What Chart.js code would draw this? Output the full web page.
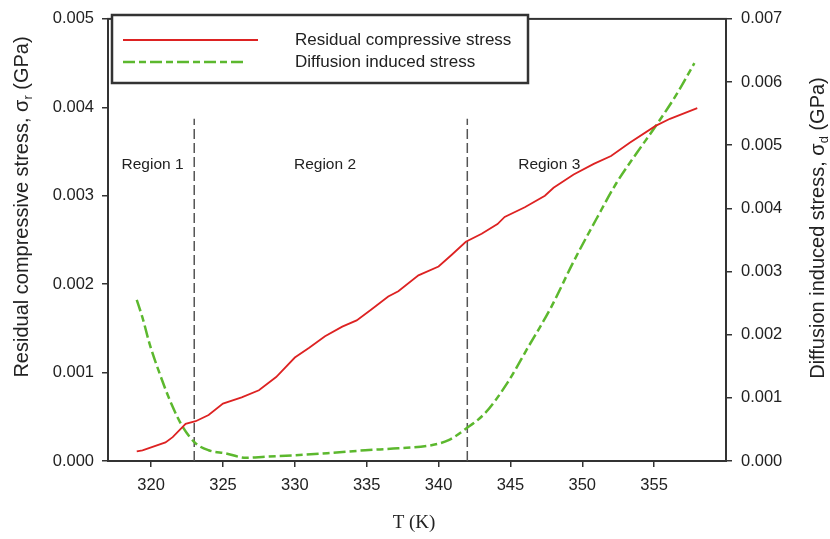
<!DOCTYPE html>
<html>
<head>
<meta charset="utf-8">
<script src="https://cdn.jsdelivr.net/npm/chart.js@4.4.0/dist/chart.umd.min.js"></script>
<style>body{margin:0;background:#fff}</style>
</head>
<body>
<canvas id="stressChart" width="830" height="539"></canvas>
<script>
// tick labels
const xTicks = [320, 325, 330, 335, 340, 345, 350, 355];
const leftTicks = [0, 0.001, 0.002, 0.003, 0.004, 0.005];
const rightTicks = [0, 0.001, 0.002, 0.003, 0.004, 0.005, 0.006, 0.007];

// residual compressive stress (left axis, GPa)
const residualT = [319, 319.4, 321.0, 321.5, 322.4, 323.1, 324, 325, 326.3, 327.5, 328.7, 330, 331, 332.1,
  333.3, 334.3, 335.3, 336.5, 337.2, 338.6, 340, 340.9, 341.9, 343, 344.1, 344.6, 346, 347.4, 348,
  349.4, 350.8, 352, 353.3, 355.1, 356.1, 358];
const residualStress = [0.00011, 0.00012, 0.00021, 0.00027, 0.00042, 0.00045, 0.00052, 0.00065, 0.00072,
  0.0008, 0.00095, 0.00117, 0.00128, 0.00141, 0.00152, 0.00159, 0.00171, 0.00186, 0.00192, 0.0021,
  0.0022, 0.00233, 0.00248, 0.00257, 0.00268, 0.00276, 0.00287, 0.003, 0.00309, 0.00324, 0.00336,
  0.00345, 0.0036, 0.00379, 0.00387, 0.00399];

// diffusion induced stress (right axis, GPa)
const diffusionT = [319, 319.4, 319.9, 320.6, 321.4, 322.2, 323.1, 324, 325.2, 326.6, 328, 330, 332.6,
  334.9, 337.2, 339.5, 340.7, 341.9, 343.2, 344.8, 346.2, 347.8, 349.4, 351, 352.4, 353.8, 355.1,
  356.6, 357.8];
const diffusionStress = [0.00255, 0.00227, 0.00185, 0.00138, 0.00091, 0.00054, 0.00028, 0.00017, 0.00012,
  0.00005, 0.00007, 0.00009, 0.00013, 0.00017, 0.0002, 0.00025, 0.00033, 0.00051, 0.00075, 0.00124,
  0.00179, 0.00242, 0.00316, 0.00384, 0.00441, 0.00488, 0.0053, 0.00582, 0.0063];

// region boundaries (K) and height of the dashed markers (left axis)
const regionBounds = [323, 342];
const regionLineTop = 0.00387;
const regionNames = ['Region 1', 'Region 2', 'Region 3'];

const sans = '"Liberation Sans", Arial, sans-serif';
const ink = '#222';

const toPoints = (xs, ys) => xs.map((x, i) => ({ x: x, y: ys[i] }));

function richText(ctx, parts, cx, cy, rot) {
  ctx.save();
  ctx.translate(cx, cy);
  ctx.rotate(rot);
  ctx.textBaseline = 'middle';
  ctx.textAlign = 'left';
  let total = 0;
  parts.forEach(p => { ctx.font = p.size + 'px ' + (p.family || sans); p.w = ctx.measureText(p.t).width; total += p.w; });
  let x = -total / 2;
  parts.forEach(p => {
    ctx.font = p.size + 'px ' + (p.family || sans);
    ctx.fillText(p.t, x, p.dy || 0);
    x += p.w;
  });
  ctx.restore();
}

const decorations = {
  id: 'decorations',
  beforeDatasetsDraw(chart) {
    const { ctx, chartArea: a } = chart;
    ctx.save();
    ctx.strokeStyle = '#333';
    ctx.lineWidth = 2;
    ctx.strokeRect(a.left, a.top, a.right - a.left, a.bottom - a.top);
    ctx.restore();
  },
  afterDraw(chart, args, opts) {
    const { ctx, scales } = chart;
    const ds = chart.data.datasets;
    ctx.save();
    ctx.fillStyle = ink;

    // region labels
    ctx.font = '15.5px ' + sans;
    ctx.textAlign = 'center';
    ctx.textBaseline = 'middle';
    regionNames.forEach((name, i) => {
      ctx.fillText(name, scales.x.getPixelForValue(opts.regionLabelX[i]), scales.y.getPixelForValue(opts.regionLabelY));
    });

    // legend box
    const L = opts.legend;
    ctx.fillStyle = '#fff';
    ctx.fillRect(L.x, L.y, L.w, L.h);
    ctx.strokeStyle = '#333';
    ctx.lineWidth = 2.5;
    ctx.strokeRect(L.x, L.y, L.w, L.h);
    [0, 1].forEach(i => {
      const d = ds[i];
      const y = L.y + L.rows[i];
      ctx.strokeStyle = d.borderColor;
      ctx.lineWidth = d.borderWidth;
      ctx.setLineDash(d.borderDash || []);
      ctx.beginPath();
      ctx.moveTo(L.x + 11, y);
      ctx.lineTo(L.x + L.sample[i], y);
      ctx.stroke();
      ctx.setLineDash([]);
      ctx.fillStyle = ink;
      ctx.font = '17px ' + sans;
      ctx.textAlign = 'left';
      ctx.fillText(d.label, L.x + 183, y);
    });

    // axis titles
    ctx.fillStyle = ink;
    richText(ctx, [
      { t: 'Residual compressive stress, \u03c3', size: 20 },
      { t: 'r', size: 13, dy: 6 },
      { t: ' (GPa)', size: 20 }
    ], 22, 207, -Math.PI / 2);
    richText(ctx, [
      { t: 'Diffusion induced stress, \u03c3', size: 20 },
      { t: 'd', size: 13, dy: 6 },
      { t: ' (GPa)', size: 20 }
    ], 818, 228, -Math.PI / 2);
    richText(ctx, [{ t: 'T (K)', size: 19, family: '"Liberation Serif", "Times New Roman", serif' }], 414, 523, 0);
    ctx.restore();
  }
};

const axisTicks = (values) => (axis) => { axis.ticks = values.map(v => ({ value: v })); };

const datasets = [
  {
    label: 'Residual compressive stress',
    data: toPoints(residualT, residualStress),
    yAxisID: 'y',
    borderColor: '#dd2222',
    borderWidth: 1.8,
    tension: 0
  },
  {
    label: 'Diffusion induced stress',
    data: toPoints(diffusionT, diffusionStress),
    yAxisID: 'y2',
    borderColor: '#5cb82e',
    borderWidth: 2.5,
    borderDash: [12, 4, 7, 4],
    cubicInterpolationMode: 'monotone'
  }
];
regionBounds.forEach(b => {
  datasets.push({
    label: 'boundary',
    data: [{ x: b, y: 0 }, { x: b, y: regionLineTop }],
    yAxisID: 'y',
    borderColor: '#555',
    borderWidth: 1.5,
    borderDash: [10, 4]
  });
});

const tickStyle = { color: ink, font: { family: sans, size: 16.5 } };
const gridStyle = { drawOnChartArea: false, drawTicks: true, tickLength: 6, color: '#333', lineWidth: 1.5 };

new Chart(document.getElementById('stressChart').getContext('2d'), {
  type: 'scatter',
  data: { datasets: datasets },
  options: {
    responsive: false,
    animation: false,
    devicePixelRatio: 1,
    showLine: true,
    elements: { point: { radius: 0 } },
    layout: { padding: { top: 15, left: 0, right: 0, bottom: 0 } },
    scales: {
      x: {
        type: 'linear',
        min: 317,
        max: 360,
        afterBuildTicks: axisTicks(xTicks),
        afterFit: (s) => { s.height = 78; },
        border: { display: false },
        grid: gridStyle,
        ticks: Object.assign({ padding: 9 }, tickStyle)
      },
      y: {
        position: 'left',
        min: 0,
        max: 0.005,
        afterBuildTicks: axisTicks(leftTicks),
        afterFit: (s) => { s.width = 108; },
        border: { display: false },
        grid: gridStyle,
        ticks: Object.assign({ padding: 8, callback: v => v.toFixed(3) }, tickStyle)
      },
      y2: {
        position: 'right',
        min: 0,
        max: 0.007,
        afterBuildTicks: axisTicks(rightTicks),
        afterFit: (s) => { s.width = 104; },
        border: { display: false },
        grid: gridStyle,
        ticks: Object.assign({ padding: 9, callback: v => v.toFixed(3) }, tickStyle)
      }
    },
    plugins: {
      legend: { display: false },
      tooltip: { enabled: false },
      decorations: {
        regionLabelX: [320.1, 332.1, 347.7],
        regionLabelY: 0.00335,
        legend: { x: 112, y: 15, w: 416, h: 68, rows: [25, 47], sample: [146, 134] }
      }
    }
  },
  plugins: [decorations]
});
</script>
</body>
</html>
